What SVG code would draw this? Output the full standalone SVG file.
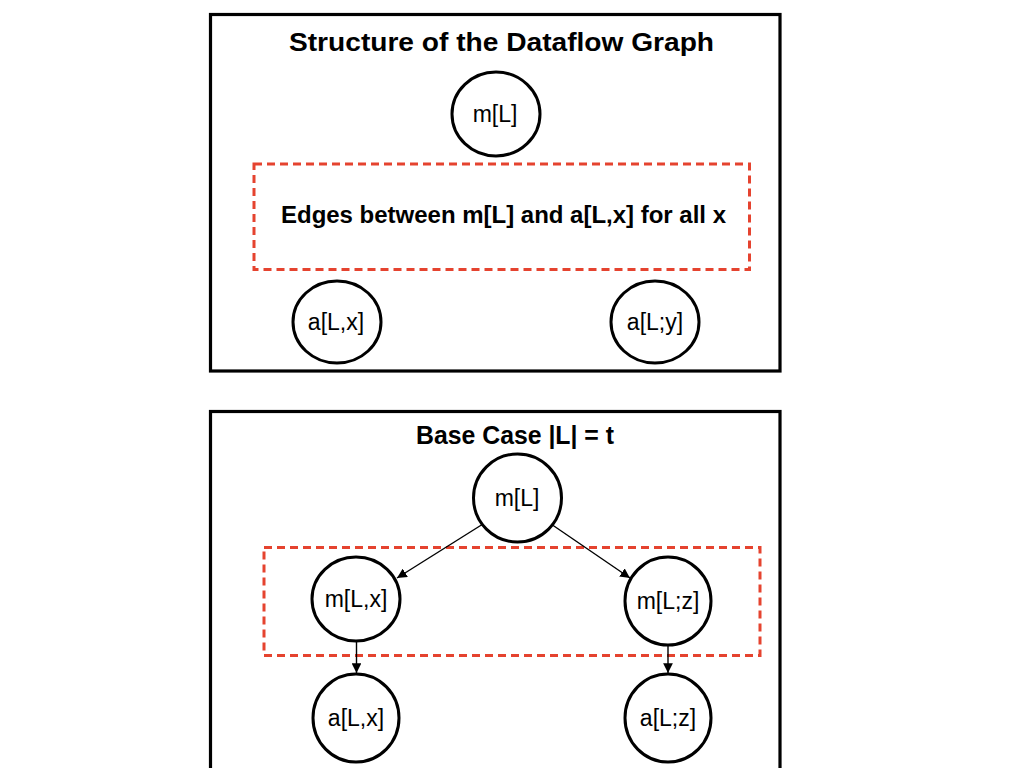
<svg xmlns="http://www.w3.org/2000/svg" width="1024" height="768" viewBox="0 0 1024 768">
<defs>
<style>
.frame{fill:none;stroke:#000;stroke-width:3.2}
.grp{fill:none;stroke:#e5432f;stroke-width:3;stroke-dasharray:8 5}
.node{fill:#fff;stroke:#000;stroke-width:3}
.title{font-family:"Liberation Sans",Arial,sans-serif;font-weight:bold;font-size:26px;text-anchor:middle;fill:#000}
.note{font-family:"Liberation Sans",Arial,sans-serif;font-weight:bold;font-size:23px;text-anchor:middle;fill:#000}
.lbl{font-family:"Liberation Sans",Arial,sans-serif;font-size:23px;text-anchor:middle;fill:#000}
.edge{fill:none;stroke:#000;stroke-width:1.4;marker-end:url(#arr)}
</style>
<marker id="arr" viewBox="0 0 10 10" refX="10" refY="5" markerWidth="7" markerHeight="7" markerUnits="strokeWidth" orient="auto">
<path d="M0,0 L10,5 L0,10 z" fill="#000"/>
</marker>
</defs>
<rect width="1024" height="768" fill="#fff"/>

<g id="panel-top">
<rect class="frame" x="210.5" y="14.5" width="569.5" height="356.5"/>
<text class="title" x="501.5" y="51" textLength="425" lengthAdjust="spacingAndGlyphs">Structure of the Dataflow Graph</text>
<rect class="grp" x="254" y="164" width="495.5" height="105.5"/>
<text class="note" x="503.5" y="223" textLength="445" lengthAdjust="spacingAndGlyphs">Edges between m[L] and a[L,x] for all x</text>
</g>
<g id="top-mL">
<ellipse class="node" cx="496" cy="114" rx="44" ry="42"/>
<text class="lbl" x="495" y="122">m[L]</text>
</g>
<g id="top-aLx">
<ellipse class="node" cx="337" cy="322" rx="44" ry="41"/>
<text class="lbl" x="336" y="330">a[L,x]</text>
</g>
<g id="top-aLy">
<ellipse class="node" cx="655" cy="322" rx="44" ry="41"/>
<text class="lbl" x="655" y="330">a[L;y]</text>
</g>

<g id="panel-bottom">
<rect class="frame" x="210.5" y="411.5" width="569.5" height="380"/>
<text class="title" x="515" y="444" textLength="198" lengthAdjust="spacingAndGlyphs">Base Case |L| = t</text>
<rect class="grp" x="264" y="547.5" width="496" height="108"/>
</g>
<g id="bot-mL">
<ellipse class="node" cx="517.5" cy="498" rx="44" ry="44"/>
<text class="lbl" x="517" y="506">m[L]</text>
</g>
<g id="bot-mLx">
<ellipse class="node" cx="356" cy="599" rx="44" ry="42"/>
<text class="lbl" x="356" y="607">m[L,x]</text>
</g>
<g id="bot-mLz">
<ellipse class="node" cx="668" cy="601" rx="43" ry="44"/>
<text class="lbl" x="668" y="609">m[L;z]</text>
</g>
<g id="bot-aLx">
<ellipse class="node" cx="356" cy="718" rx="43" ry="44"/>
<text class="lbl" x="356" y="726">a[L,x]</text>
</g>
<g id="bot-aLz">
<ellipse class="node" cx="668" cy="718" rx="43" ry="44"/>
<text class="lbl" x="668" y="726">a[L;z]</text>
</g>

<g id="connectors">
<line class="edge" x1="483" y1="524" x2="397" y2="578"/>
<line class="edge" x1="551" y1="524" x2="630" y2="578"/>
<line class="edge" x1="356.5" y1="641" x2="356.5" y2="673"/>
<line class="edge" x1="668" y1="645" x2="668" y2="673"/>
</g>
</svg>
